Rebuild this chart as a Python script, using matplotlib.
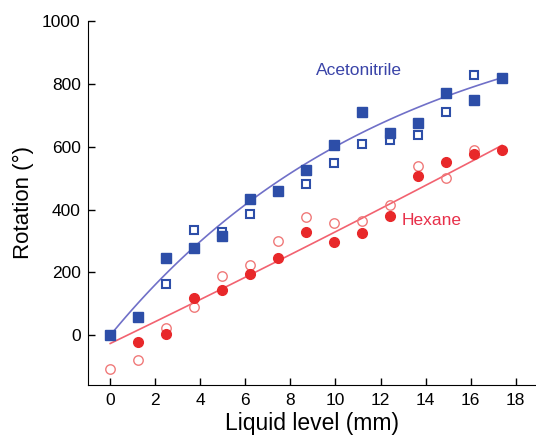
import numpy as np
import matplotlib
matplotlib.use("Agg")
import matplotlib.pyplot as plt

plt.rcParams['font.family'] = ['Liberation Sans', 'DejaVu Sans']

# liquid level positions (mm)
levels = [0, 1.24, 2.48, 3.73, 4.97, 6.21, 7.45, 8.69, 9.94, 11.18, 12.42, 13.66, 14.9, 16.15, 17.39]

# acetonitrile, filled squares (all levels)
acn_filled = [0, 57, 246, 277, 315, 435, 460, 525, 605, 710, 645, 675, 770, 750, 820]
# acetonitrile, open squares (subset of levels)
acn_open_idx = [2, 3, 4, 5, 7, 8, 9, 10, 11, 12, 13]
acn_open = [164, 334, 328, 387, 482, 548, 608, 620, 636, 709, 828]

# hexane, filled circles
hex_filled_idx = [1, 2, 3, 4, 5, 6, 7, 8, 9, 10, 11, 12, 13, 14]
hex_filled = [-22, 3, 120, 145, 195, 245, 330, 296, 325, 381, 507, 551, 576, 589]
# hexane, open circles
hex_open_idx = [0, 1, 2, 3, 4, 5, 6, 7, 8, 9, 10, 11, 12, 13]
hex_open = [-107, -78, 22, 91, 189, 224, 299, 378, 356, 365, 416, 539, 501, 589]

# fitted curves
acn_fit_amp, acn_fit_tau = 1091, 12.5          # y = A(1 - exp(-x/tau))
hex_fit_coef = [0.095, 34.6, -26]              # quadratic, highest power first

blue = '#2d4ea8'
blue_line = '#7070c8'
red = '#e8282a'
red_open = '#f07a7a'
red_line = '#f26270'

levels = np.array(levels)

fig = plt.figure(figsize=(5.36, 4.44), dpi=100)
ax = fig.add_axes([0.1636, 0.1329, 0.8364, 0.8198])

xf = np.linspace(0, levels[-1], 100)
ax.plot(xf, acn_fit_amp * (1 - np.exp(-xf / acn_fit_tau)), color=blue_line, lw=1.2, zorder=1)
ax.plot(xf, np.polyval(hex_fit_coef, xf), color=red_line, lw=1.2, zorder=1)

ax.plot(levels[hex_open_idx], hex_open, 'o', ms=6.8, mfc='none', mec=red_open, mew=1.0, zorder=2)
ax.plot(levels[hex_filled_idx], hex_filled, 'o', ms=7.0, mfc=red, mec=red, zorder=3)
ax.plot(levels[acn_open_idx], acn_open, 's', ms=6.0, mfc='none', mec=blue, mew=1.5, zorder=2)
ax.plot(levels, acn_filled, 's', ms=6.8, mfc=blue, mec=blue, zorder=3)

ax.text(9.13, 829, 'Acetonitrile', color='#3a44a8', fontsize=12.5)
ax.text(12.94, 351, 'Hexane', color='#e8304a', fontsize=12.5)

ax.set_xlim(-1, 18.9)
ax.set_ylim(-158, 1000)
ax.set_xticks(np.arange(0, 19, 2))
ax.set_yticks(np.arange(0, 1001, 200))
ax.tick_params(direction='in', length=5, width=1, labelsize=12.5)
ax.tick_params(axis='x', pad=6)
ax.tick_params(axis='y', pad=5)
ax.spines['top'].set_visible(False)
ax.spines['right'].set_visible(False)
ax.set_xlabel('Liquid level (mm)', fontsize=16.5, labelpad=3)
ax.set_ylabel('Rotation (°)', fontsize=16, labelpad=6)

fig.savefig('out.png', dpi=100)
